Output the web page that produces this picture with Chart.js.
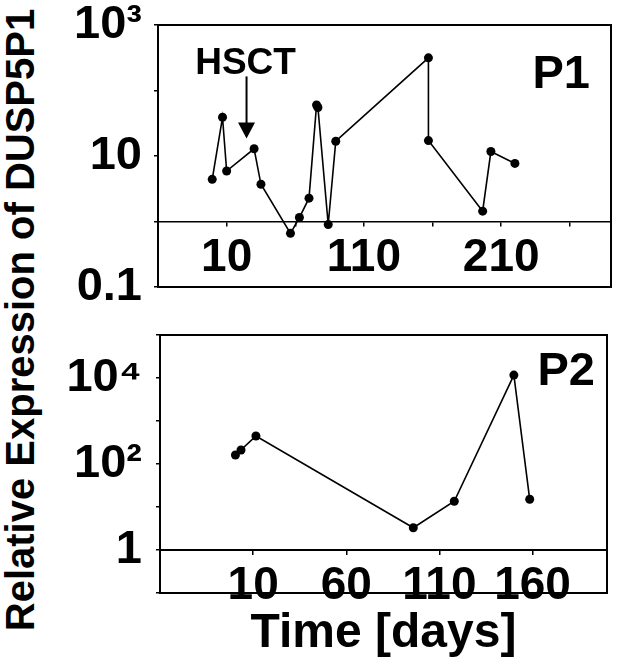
<!DOCTYPE html>
<html><head><meta charset="utf-8">
<script src="https://cdn.jsdelivr.net/npm/chart.js@4/dist/chart.umd.min.js"></script>
<style>
html,body{margin:0;padding:0;background:#fff;}
#wrap{position:relative;width:618px;height:669px;overflow:hidden;font-family:"Liberation Sans",Arial,sans-serif;}
#c1{position:absolute;left:0;top:0;}
#c2{position:absolute;left:0;top:312px;}
#ytitle{position:absolute;left:20px;top:320px;transform:translate(-50%,-50%) rotate(-90deg);white-space:nowrap;font-weight:bold;font-size:40px;line-height:1;color:#000;}
</style></head><body>
<div id="wrap">
<div id="ytitle">Relative Expression of DUSP5P1</div>
<canvas id="c1" width="618" height="312"></canvas>
<canvas id="c2" width="618" height="357"></canvas>
</div>
<script>
// ---- data ----
const p1Days = [-0.5, 7, 10, 30, 35, 56.5, 63, 70, 75.5, 76.5, 84, 89.5, 157, 157, 196.5, 202.5, 220];
const p1Expr = [4.4, 39, 5.9, 12.9, 3.7, 0.66, 1.15, 2.27, 60, 55, 0.9, 16.8, 315, 17.2, 1.44, 11.7, 7.7];
const p2Days = [0.5, 3.5, 11.5, 96, 118, 150, 158.5];
const p2Expr = [162, 212, 448, 3.3, 13.6, 11700, 15.1];
const p1XTicks = [10, 60, 110, 160, 210, 260];
const p1XLabels = ['10', '', '110', '', '210', ''];
const p2XTicks = [10, 60, 110, 160];
const p2XLabels = ['10', '60', '110', '160'];
const p1YTicks = [0.1, 1, 10, 100, 1000];
const p1YLabels = ['0.1', '', '10', '', '10³'];
const p2YTicks = [0.1, 1, 10, 100, 1000, 10000, 100000];
const p2YLabels = ['', '1', '', '10²', '', '10⁴', ''];

const FONT = '"Liberation Sans", Arial, sans-serif';

const frame = {
  id: 'frame',
  afterDatasetsDraw(chart) {
    const {ctx, chartArea: a} = chart;
    ctx.save();
    ctx.strokeStyle = '#000';
    ctx.lineWidth = 2;
    ctx.strokeRect(a.left, a.top, a.right - a.left, a.bottom - a.top);
    ctx.restore();
  }
};

const notes = {
  id: 'notes',
  afterDraw(chart, args, o) {
    const {ctx, chartArea: a, scales} = chart;
    ctx.save();
    ctx.fillStyle = '#000';
    ctx.strokeStyle = '#000';
    ctx.font = 'bold ' + o.size + 'px ' + FONT;
    ctx.textAlign = 'right';
    ctx.textBaseline = 'alphabetic';
    ctx.fillText(o.panel, a.right - o.dx, a.top + o.dy);
    if (o.arrow) {
      const px = scales.x.getPixelForValue(o.arrow.x);
      const yt = scales.y.getPixelForValue(o.arrow.from);
      const yb = scales.y.getPixelForValue(o.arrow.to);
      ctx.lineWidth = 2;
      ctx.beginPath();
      ctx.moveTo(px, yt);
      ctx.lineTo(px, yb - 12);
      ctx.stroke();
      ctx.beginPath();
      ctx.moveTo(px - 8.5, yb - 16);
      ctx.lineTo(px + 8.5, yb - 16);
      ctx.lineTo(px, yb);
      ctx.closePath();
      ctx.fill();
      ctx.font = 'bold ' + o.arrow.size + 'px ' + FONT;
      ctx.textAlign = 'center';
      ctx.fillText(o.arrow.text, px - 1, yt - 2);
    }
    ctx.restore();
  }
};

function makeChart(id, days, expr, xTicks, xLabels, xMax, yTicks, yLabels, yMin, yMax, cfg) {
  const tickFont = {family: FONT, size: 46, weight: 'bold', lineHeight: 1.2};
  return new Chart(document.getElementById(id), {
    type: 'line',
    data: {
      datasets: [{
        data: days.map((d, i) => ({x: d, y: expr[i]})),
        borderColor: '#000',
        backgroundColor: '#000',
        borderWidth: 1.6,
        pointRadius: 4.5,
        pointBackgroundColor: '#000',
        pointBorderWidth: 0,
        tension: 0,
        clip: false
      }]
    },
    options: {
      responsive: false,
      animation: false,
      events: [],
      layout: {padding: cfg.padding},
      scales: {
        x: {
          type: 'linear', min: -40, max: xMax, position: {y: 1},
          afterBuildTicks: s => { s.ticks = xTicks.map(v => ({value: v})); },
          afterFit: s => { s.paddingLeft = 0; s.paddingRight = 0; },
          ticks: {
            autoSkip: false, maxRotation: 0, minRotation: 0, padding: cfg.xPad, color: '#000', font: tickFont,
            callback: v => { const i = xTicks.indexOf(v); return i < 0 ? '' : xLabels[i]; }
          },
          grid: {drawOnChartArea: false, drawTicks: true, tickLength: 4, color: '#000', lineWidth: 1.5},
          border: {display: true, color: '#000', width: cfg.axisW}
        },
        y: {
          type: 'logarithmic', min: yMin, max: yMax, position: 'left',
          afterBuildTicks: s => { s.ticks = yTicks.map(v => ({value: v})); },
          afterFit: s => { s.width = cfg.leftW; s.paddingTop = 0; s.paddingBottom = 0; },
          ticks: {
            autoSkip: false, padding: cfg.yPad, color: '#000',
            font: {family: FONT, size: 47, weight: 'bold', lineHeight: 1},
            callback: v => { const i = yTicks.indexOf(v); return i < 0 ? '' : yLabels[i]; }
          },
          grid: {drawOnChartArea: false, drawTicks: true, tickLength: 4, color: '#000', lineWidth: 1.5},
          border: {display: false}
        }
      },
      plugins: {
        legend: {display: false},
        tooltip: {enabled: false},
        title: cfg.title,
        notes: cfg.notes
      }
    },
    plugins: [frame, notes]
  });
}

makeChart('c1', p1Days, p1Expr, p1XTicks, p1XLabels, 290, p1YTicks, p1YLabels, 0.1, 1000, {
  padding: {top: 25, bottom: 25, left: 0, right: 7},
  leftW: 158, xPad: 5, yPad: 12, axisW: 1.6,
  title: {display: false},
  notes: {panel: 'P1', size: 47, dx: 21, dy: 63,
          arrow: {x: 24.5, from: 164, to: 18.5, text: 'HSCT', size: 37}}
});

makeChart('c2', p2Days, p2Expr, p2XTicks, p2XLabels, 200, p2YTicks, p2YLabels, 0.1, 100000, {
  padding: {top: 23, bottom: 0, left: 0, right: 11},
  leftW: 160, xPad: 5, yPad: 14, axisW: 2,
  title: {display: true, text: 'Time [days]', position: 'bottom', fullSize: false, color: '#000',
          font: {family: FONT, size: 48, weight: 'bold', lineHeight: 1}, padding: {top: 17, bottom: 11}},
  notes: {panel: 'P2', size: 47, dx: 12, dy: 50}
});
</script>
</body></html>
